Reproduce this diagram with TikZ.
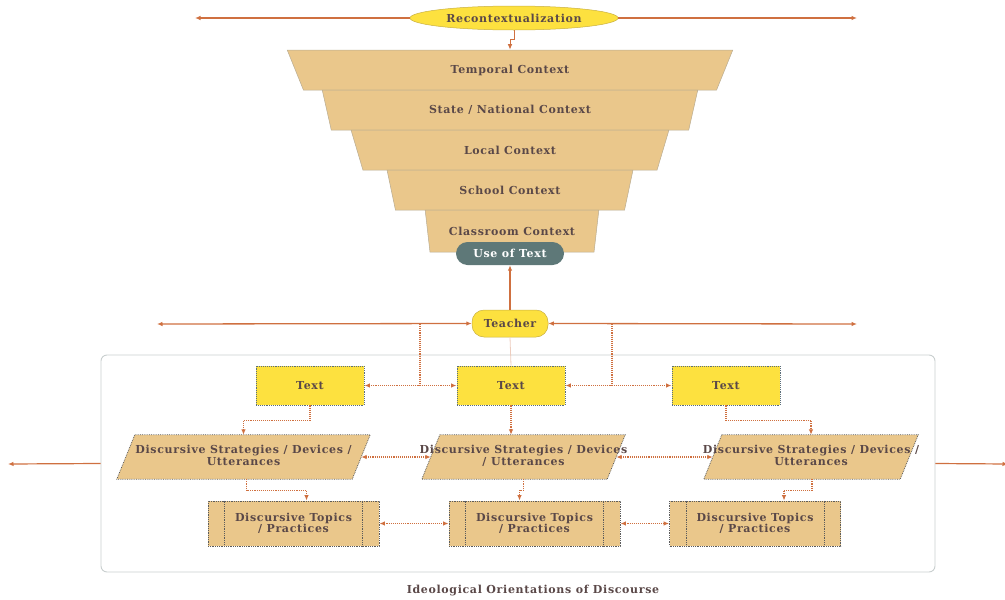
\documentclass[tikz,border=0pt]{standalone}
\usepackage{fontspec}
\setmainfont{DejaVu Serif}[LetterSpace=6]
\usetikzlibrary{shapes.geometric,arrows.meta,calc,backgrounds}

\definecolor{ink}{HTML}{5A4848}
\definecolor{wire}{HTML}{CF7040}
\definecolor{sand}{HTML}{EAC78B}
\definecolor{sandedge}{HTML}{B9AC92}
\definecolor{lemon}{HTML}{FDE13F}
\definecolor{lemonedge}{HTML}{C9B040}
\definecolor{slate}{HTML}{5E7878}
\definecolor{frameg}{HTML}{C8CECE}
\definecolor{dotb}{HTML}{5B6E7A}
\definecolor{dotg}{HTML}{5C5C5C}
\definecolor{faint}{HTML}{EDCDBE}

% two centred lines that take no width of their own
\newcommand{\dline}[2]{\makebox[0pt]{\begin{tabular}{@{}c@{}}#1\\#2\end{tabular}}}

\tikzset{
  layer/.style={trapezium, trapezium left angle=113.6, trapezium right angle=113.6,
    trapezium stretches=true, fill=sand, draw=sandedge, line width=0.5,
    minimum height=40, inner sep=0},
  pill/.style={rectangle, rounded corners=#1, inner sep=0},
  textbox/.style={rectangle, fill=lemon, draw=dotb, densely dotted, line width=0.9,
    minimum width=108, minimum height=39},
  % a strategy node is the mid-line box of a parallelogram drawn behind it
  para/.style={rectangle, minimum height=44, inner sep=0},
  parashape/.style={fill=sand, draw=dotg, densely dotted, line width=0.8},
  topic/.style={rectangle, fill=sand, draw=dotg, densely dotted, line width=0.8,
    minimum width=171, minimum height=45, align=center, inner sep=0},
  link/.style={draw=wire, line width=1.1, densely dotted, -{Latex[length=5.5pt,width=4.5pt]}},
  blink/.style={draw=wire, line width=1.1, densely dotted,
    {Latex[length=5.5pt,width=4.5pt]}-{Latex[length=5.5pt,width=4.5pt]}},
  wireline/.style={draw=wire, line width=1.2, -{Latex[length=5.5pt,width=4.5pt]}},
}

\begin{document}
\begin{tikzpicture}[x=1pt, y=-1pt, font=\fontsize{11}{11.5}\selectfont\bfseries, text=ink]
\useasboundingbox (0,0) rectangle (1005,600);

% recontextualization
\node[ellipse, fill=lemon, draw=lemonedge, line width=0.5, minimum width=208,
      minimum height=24, inner sep=0] (recon) at (514,18) {Recontextualization};
\coordinate (reconL) at (195,18);
\coordinate (reconR) at (857,18);

% funnel of contexts
\node[layer, minimum width=446] (temporal) at (510,70) {Temporal Context};
\node[layer, minimum width=376] (state) at (510,110) {State / National Context};
\node[layer, minimum width=320] (local) at (510,150) {Local Context};
\node[layer, minimum width=246] (school) at (510,190) {School Context};
\node[layer, minimum width=174, minimum height=42] (classroom) at (512,231) {Classroom Context};
\node[pill=11.5, fill=slate, text=white, minimum width=108, minimum height=23] (use) at (510,253.5) {Use of Text};

% teacher
\node[pill=12, fill=lemon, draw=lemonedge, line width=0.5, minimum width=76,
      minimum height=27] (teacher) at (510,323.5) {Teacher};
\coordinate (teachL) at (157,324);
\coordinate (teachR) at (857,324);
\coordinate (j1) at (420,324);
\coordinate (j2) at (612,324);

% container
\node[rectangle, rounded corners=6, draw=frameg, line width=0.9, minimum width=834,
      minimum height=217] (frame) at (518,463.5) {};
\coordinate (frameL) at (8,464);
\coordinate (frameR) at (1008,464);

% texts
\node[textbox] (txt1) at (310,385.5) {Text};
\node[textbox] (txt2) at (511,385.5) {Text};
\node[textbox] (txt3) at (726,385.5) {Text};

% discursive strategies
\node[para, minimum width=235] (ds1) at (243.5,457) {\dline{Discursive Strategies / Devices /}{Utterances}};
\node[para, minimum width=185] (ds2) at (523.5,457) {\dline{Discursive Strategies / Devices}{/ Utterances}};
\node[para, minimum width=196] (ds3) at (811,457) {\dline{Discursive Strategies / Devices /}{Utterances}};
\begin{scope}[on background layer]
  \foreach \n in {ds1,ds2,ds3}{
    \path[parashape] ([xshift=9]\n.north west) -- ([xshift=9]\n.north east)
      -- ([xshift=-9]\n.south east) -- ([xshift=-9]\n.south west) -- cycle;
  }
\end{scope}

% discursive topics
\node[topic] (dt1) at (293.5,523.5) {Discursive Topics\\/ Practices};
\node[topic] (dt2) at (534.5,523.5) {Discursive Topics\\/ Practices};
\node[topic] (dt3) at (755,523.5) {Discursive Topics\\/ Practices};
\foreach \n in {dt1,dt2,dt3}{
  \draw[dotg, densely dotted, line width=0.8]
    ([xshift=17]\n.north west) -- ([xshift=17]\n.south west)
    ([xshift=-17]\n.north east) -- ([xshift=-17]\n.south east);
}

% title
\node (title) at (533,591) {Ideological Orientations of Discourse};

% connectors: top
\draw[wireline] (recon.west) -- (reconL);
\draw[wireline] (recon.east) -- (reconR);
\draw[wireline, line width=1] (recon.south) -- ++(0,9) -| (temporal.north);

% connectors: teacher
\draw[wireline, line width=1.6] (teacher.north) -- (use.south);
\draw[wireline, line width=1.3, {Latex[length=5.5pt,width=4.5pt]}-{Latex[length=5.5pt,width=4.5pt]}] (teacher.west) -- (teachL);
\draw[wireline, line width=1.3, {Latex[length=5.5pt,width=4.5pt]}-{Latex[length=5.5pt,width=4.5pt]}] (teacher.east) -- (teachR);
\draw[draw=faint, line width=0.8] (teacher.south) -- (txt2.north);
\draw[link] (j1) |- (txt1.east);
\draw[link] (j1) |- (txt2.west);
\draw[link] (j2) |- (txt2.east);
\draw[link] (j2) |- (txt3.west);

% connectors: container sides
\draw[wireline] (frame.west) -- (frameL);
\draw[wireline] (frame.east) -- (frameR);

% connectors: texts to strategies
\draw[link] (txt1.south) -- ++(0,15) -| (ds1.north);
\draw[link] (txt2.south) -- (txt2.south |- ds2.north);
\draw[link] (txt3.south) -- ++(0,15) -| (ds3.north);

% connectors: strategies to topics
\draw[link] ([xshift=3]ds1.south) -- ++(0,11) -| ([xshift=13]dt1.north);
\draw[link] (ds2.south) -- ++(0,11) -| ([xshift=-15]dt2.north);
\draw[link] ([xshift=1]ds3.south) -- ++(0,11) -| ([xshift=29]dt3.north);

% connectors: between columns
\draw[blink] (ds1.east) -- (ds2.west);
\draw[blink] (ds2.east) -- (ds3.west);
\draw[blink] (dt1.east) -- (dt2.west);
\draw[blink] (dt2.east) -- (dt3.west);
\end{tikzpicture}
\end{document}
